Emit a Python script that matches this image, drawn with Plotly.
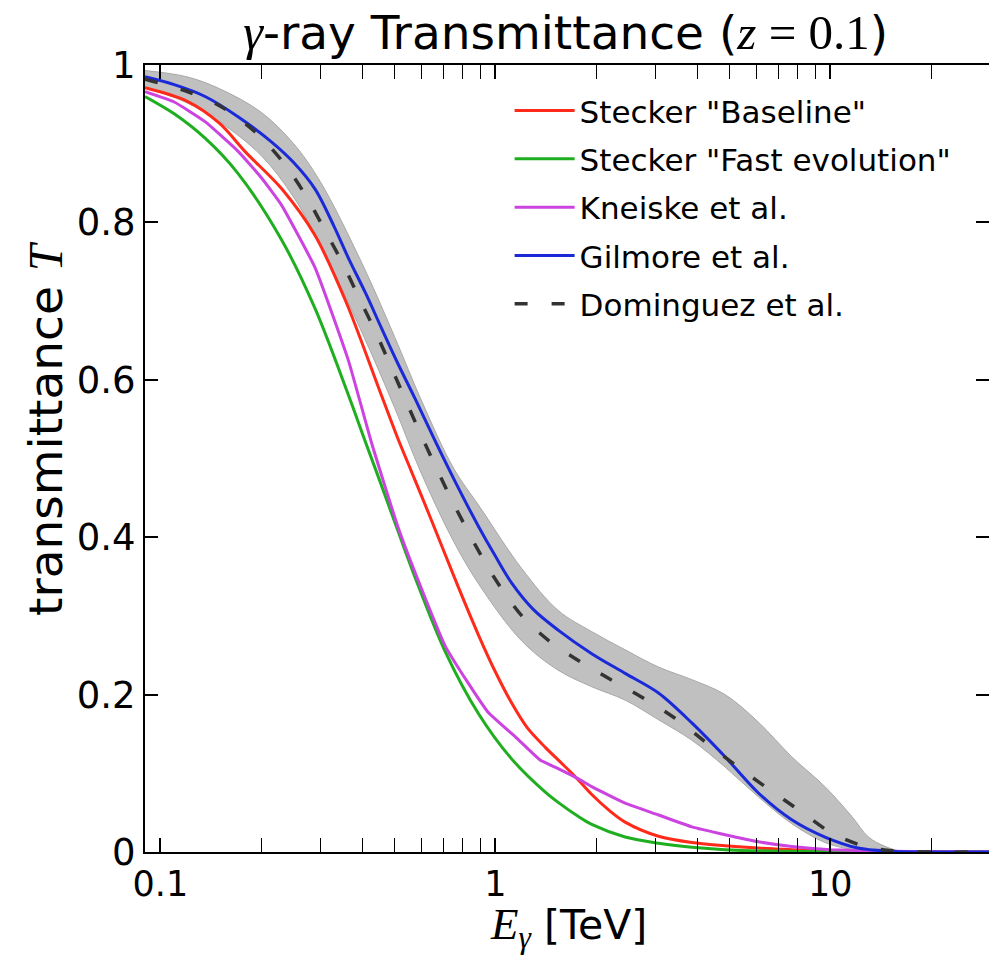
import numpy as np
import plotly.graph_objects as go

# transmittance vs gamma-ray energy (TeV), z = 0.1
E_RED = [0.09, 0.12, 0.15, 0.18, 0.23, 0.29, 0.36, 0.45, 0.51, 0.56, 0.63, 0.71, 0.78, 0.89, 1.0, 1.12,
         1.25, 1.41, 1.54, 1.73, 1.94, 2.2, 2.44, 3.07, 3.86, 4.85, 6.1, 7.7, 10, 15, 20, 30]
T_RED = [0.971, 0.954, 0.926, 0.889, 0.843, 0.783, 0.697, 0.588, 0.527, 0.485, 0.432, 0.377, 0.334, 0.276,
         0.229, 0.189, 0.157, 0.133, 0.117, 0.096, 0.073, 0.052, 0.038, 0.020, 0.012, 0.008, 0.005, 0.003,
         0.0015, 0.0005, 0.0002, 0.0]

E_GREEN = [0.09, 0.11, 0.136, 0.17, 0.23, 0.29, 0.364, 0.408, 0.448, 0.51, 0.576, 0.708, 0.89, 1.12,
           1.41, 1.54, 1.77, 1.94, 2.44, 3.07, 3.86, 4.85, 7, 10, 20, 30]
T_GREEN = [0.960, 0.938, 0.907, 0.863, 0.778, 0.690, 0.581, 0.523, 0.476, 0.410, 0.349, 0.255, 0.176,
           0.118, 0.076, 0.063, 0.045, 0.035, 0.019, 0.011, 0.006, 0.003, 0.001, 0.0004, 0.0, 0.0]

E_MAG = [0.09, 0.11, 0.136, 0.171, 0.2, 0.23, 0.29, 0.364, 0.427, 0.513, 0.6, 0.708, 0.82, 0.95, 1.15, 1.36,
         1.54, 1.77, 1.94, 2.44, 3.07, 3.86, 4.85, 6.1, 7.67, 10, 15, 20, 30]
T_MAG = [0.966, 0.953, 0.928, 0.890, 0.857, 0.822, 0.742, 0.625, 0.520, 0.412, 0.336, 0.262, 0.218, 0.178,
         0.146, 0.117, 0.106, 0.093, 0.083, 0.062, 0.047, 0.032, 0.022, 0.013, 0.007, 0.003, 0.0008, 0.0003, 0.0]

E_BLUE = [0.09, 0.11, 0.136, 0.171, 0.215, 0.25, 0.29, 0.33, 0.364, 0.41, 0.458, 0.51, 0.576, 0.66, 0.76,
          0.89, 1.0, 1.118, 1.3, 1.54, 1.94, 2.44, 3.07, 3.86, 4.85, 6.1, 7.67, 9.64, 12.1, 15, 20, 30]
T_BLUE = [0.985, 0.975, 0.960, 0.934, 0.902, 0.876, 0.842, 0.795, 0.755, 0.710, 0.665, 0.622, 0.576, 0.523,
          0.470, 0.414, 0.376, 0.342, 0.308, 0.282, 0.252, 0.227, 0.202, 0.164, 0.121, 0.075, 0.041, 0.019,
          0.005, 0.001, 0.0, 0.0]

E_DOM = [0.09, 0.121, 0.152, 0.192, 0.23, 0.27, 0.31, 0.35, 0.39, 0.44, 0.49, 0.603, 0.758, 0.975, 1.2, 1.45,
         1.73, 2.17, 2.73, 3.44, 4.23, 5.19, 6.54, 8.2, 10.1, 12.7, 15, 20, 30]
T_DOM = [0.982, 0.966, 0.947, 0.915, 0.879, 0.836, 0.790, 0.748, 0.706, 0.66, 0.615, 0.528, 0.439, 0.354,
         0.30, 0.268, 0.246, 0.221, 0.197, 0.170, 0.140, 0.111, 0.080, 0.051, 0.024, 0.007, 0.002, 0.0, 0.0]

E_BAND = [0.09, 0.12, 0.15, 0.2, 0.25, 0.3, 0.4, 0.5, 0.6, 0.75, 0.9, 1.2, 1.54, 1.94, 2.44, 3.07, 3.86,
          4.85, 6.1, 7.67, 9.64, 11.6, 13, 14.6, 16.5, 20, 30]
BAND_HI = [0.993, 0.985, 0.970, 0.940, 0.900, 0.852, 0.748, 0.655, 0.575, 0.488, 0.438, 0.360, 0.307, 0.280,
           0.257, 0.235, 0.219, 0.200, 0.165, 0.121, 0.083, 0.045, 0.019, 0.007, 0.0005, 0.0, 0.0]
BAND_LO = [0.972, 0.952, 0.928, 0.885, 0.832, 0.772, 0.660, 0.565, 0.482, 0.395, 0.338, 0.268, 0.231, 0.210,
           0.193, 0.168, 0.142, 0.108, 0.070, 0.036, 0.012, 0.003, 0.0, 0.0, 0.0, 0.0, 0.0]

Y_TICKS = [0, 0.2, 0.4, 0.6, 0.8, 1]
Y_LABELS = ['0', '0.2', '0.4', '0.6', '0.8', '1']
X_TICKS = [0.1, 1, 10]
X_LABELS = ['0.1', '1', '10']
X_MINOR = [0.2, 0.3, 0.4, 0.5, 0.6, 0.7, 0.8, 0.9, 2, 3, 4, 5, 6, 7, 8, 9, 20, 30]

SANS = 'DejaVu Sans'
SERIF = 'Liberation Serif'


def math(s, size):
    return f'<span style="font-family:{SERIF};font-size:{size}px">{s}</span>'


fig = go.Figure()

# uncertainty band of the Dominguez model
fig.add_trace(go.Scatter(x=E_BAND, y=BAND_LO, mode='lines', line=dict(color='#a8a8a8', width=1),
                         showlegend=False, hoverinfo='skip', line_shape='spline'))
fig.add_trace(go.Scatter(x=E_BAND, y=BAND_HI, mode='lines', line=dict(color='#a8a8a8', width=1),
                         fill='tonexty', fillcolor='#c0c0c0', showlegend=False, hoverinfo='skip',
                         line_shape='spline'))

curves = [
    ('Stecker "Baseline"', E_RED, T_RED, '#ff2a1a', 'solid', 0.9),
    ('Stecker "Fast evolution"', E_GREEN, T_GREEN, '#1fae1f', 'solid', 0.9),
    ('Kneiske et al.', E_MAG, T_MAG, '#cc44e0', 'solid', 0.4),
    ('Gilmore et al.', E_BLUE, T_BLUE, '#1a2ad8', 'solid', 0.9),
    ('Dominguez et al.', E_DOM, T_DOM, '#333333', '13px,24px', 0.9),
]
for i, (name, xs, ys, col, dash, sm) in enumerate(curves):
    fig.add_trace(go.Scatter(
        x=xs, y=ys, name=name, mode='lines', legendgroup=str(i),
        line=dict(color=col, width=3 if dash == 'solid' else 3.5, dash=dash, shape='spline', smoothing=sm),
    ))

# right-hand ticks without a visible spine (the frame is cut off there)
fig.add_trace(go.Scatter(x=[1], y=[0.5], yaxis='y2', mode='markers', marker=dict(opacity=0),
                         showlegend=False, hoverinfo='skip'))

lo = np.log10(0.09)
fig.update_layout(
    width=989, height=958,
    margin=dict(l=145, r=0, t=65, b=106),
    paper_bgcolor='white', plot_bgcolor='white',
    font=dict(family=SANS, color='black'),
    title=dict(
        text=math('<i>γ</i>', 50) + '-ray Transmittance (' + math('<i>z</i> = 0.1', 49) + ')',
        x=0.572, xanchor='center', yref='container', y=0.966, yanchor='middle',
        font=dict(family=SANS, size=47),
    ),
    xaxis=dict(
        type='log', range=[lo, lo + 844 / 335],
        tickvals=X_TICKS, ticktext=X_LABELS, tickfont=dict(size=35),
        ticks='inside', ticklen=14, tickwidth=1.5, tickcolor='black',
        minor=dict(tickvals=X_MINOR, ticks='inside', ticklen=7, tickwidth=1.2, tickcolor='black',
                   showgrid=False),
        showline=True, linecolor='black', linewidth=2, mirror='allticks',
        showgrid=False, zeroline=False,
    ),
    yaxis=dict(
        range=[0, 1], tickvals=Y_TICKS, ticktext=Y_LABELS, tickfont=dict(size=37),
        ticks='inside', ticklen=13, tickwidth=1.5, tickcolor='black',
        showline=True, linecolor='black', linewidth=2, mirror=False,
        showgrid=False, zeroline=False,
    ),
    yaxis2=dict(
        overlaying='y', side='right', range=[0, 1], tickvals=Y_TICKS, showticklabels=False,
        ticks='inside', ticklen=13, tickwidth=1.5, tickcolor='black',
        showline=False, showgrid=False, zeroline=False,
    ),
    legend=dict(
        x=0.432, y=0.976, xanchor='left', yanchor='top',
        font=dict(family=SANS, size=31), bgcolor='rgba(0,0,0,0)',
        tracegroupgap=5, itemwidth=60,
    ),
    annotations=[
        dict(text='transmittance ' + math('<i>T</i>', 48),
             textangle=-90, xref='paper', yref='paper', x=-0.118, y=0.538,
             xanchor='center', yanchor='middle', showarrow=False,
             font=dict(family=SANS, size=47)),
        dict(text=math('<i>E</i><sub><i>γ</i></sub>', 45) + ' [TeV]',
             xref='paper', yref='paper', x=0.502, y=-0.1334,
             xanchor='center', yanchor='bottom', showarrow=False,
             font=dict(family=SANS, size=41)),
    ],
)

fig.write_html('out.html', config={'displayModeBar': False},
               post_script="document.body.style.margin='0';")
